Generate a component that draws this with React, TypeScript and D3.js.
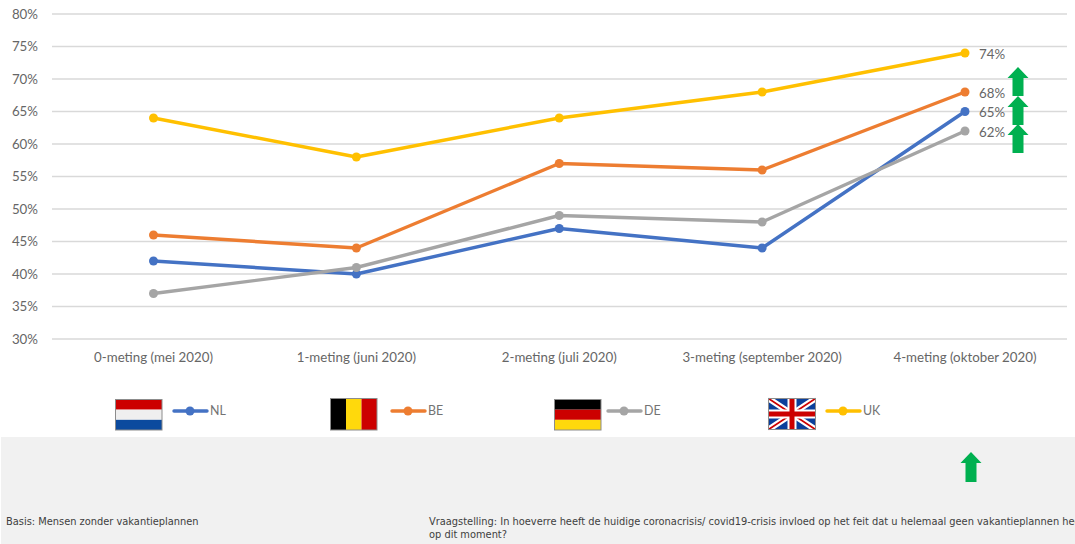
import React from "react";
import * as d3 from "d3";

const categories = ["0-meting (mei 2020)", "1-meting (juni 2020)", "2-meting (juli 2020)", "3-meting (september 2020)", "4-meting (oktober 2020)"];
const NL = [42, 40, 47, 44, 65];
const BE = [46, 44, 57, 56, 68];
const DE = [37, 41, 49, 48, 62];
const UK = [64, 58, 64, 68, 74];
const yTicks = [30, 35, 40, 45, 50, 55, 60, 65, 70, 75, 80];
const seriesNames = ["NL", "BE", "DE", "UK"];
const seriesValues = [NL, BE, DE, UK];
const seriesColors = ["#4472C4", "#ED7D31", "#A5A5A5", "#FFC000"];
const footerBasis = "Basis: Mensen zonder vakantieplannen";
const footerQ1 = "Vraagstelling: In hoeverre heeft de huidige coronacrisis/ covid19-crisis invloed op het feit dat u helemaal geen vakantieplannen heeft";
const footerQ2 = "op dit moment?";

const x = d3.scalePoint<string>().domain(categories).range([153.5, 965]);
const y = d3.scaleLinear().domain([30, 80]).range([339, 14]);
const line = d3.line<number>().x((_, i) => x(categories[i]) as number).y((d) => y(d));

const labelFont = "Lato, 'Open Sans', sans-serif";
const footFont = "'DejaVu Sans', Verdana, sans-serif";

function Arrow({ cx, top, h = 30 }: { cx: number; top: number; h?: number }) {
  const path = d3.path();
  path.moveTo(cx, top);
  path.lineTo(cx + 10.5, top + 11);
  path.lineTo(cx + 5.5, top + 11);
  path.lineTo(cx + 5.5, top + h);
  path.lineTo(cx - 5.5, top + h);
  path.lineTo(cx - 5.5, top + 11);
  path.lineTo(cx - 10.5, top + 11);
  path.closePath();
  return <path d={path.toString()} fill="#00B050" />;
}

function Stripes({ x0, y0, w, h, colors, vertical }: { x0: number; y0: number; w: number; h: number; colors: string[]; vertical?: boolean }) {
  const n = colors.length;
  return (
    <g>
      {colors.map((c, i) =>
        vertical ? (
          <rect key={c + i} x={x0 + (i * w) / n} y={y0} width={w / n} height={h} fill={c} />
        ) : (
          <rect key={c + i} x={x0} y={y0 + (i * h) / n} width={w} height={h / n} fill={c} />
        )
      )}
      <rect x={x0} y={y0} width={w} height={h} fill="none" stroke="#8c8c8c" strokeWidth={1} />
    </g>
  );
}

function UnionJack({ x0, y0, w, h }: { x0: number; y0: number; w: number; h: number }) {
  const x1 = x0 + w;
  const y1 = y0 + h;
  const cx = x0 + w / 2;
  const cy = y0 + h / 2;
  return (
    <g>
      <rect x={x0} y={y0} width={w} height={h} fill="#0B3F9B" />
      <path d={`M${x0},${y0}L${x1},${y1}M${x1},${y0}L${x0},${y1}`} stroke="#fff" strokeWidth={6} />
      <path d={`M${x0},${y0}L${x1},${y1}M${x1},${y0}L${x0},${y1}`} stroke="#CC0000" strokeWidth={1.6} />
      <path d={`M${cx},${y0}V${y1}M${x0},${cy}H${x1}`} stroke="#fff" strokeWidth={9} />
      <path d={`M${cx},${y0}V${y1}M${x0},${cy}H${x1}`} stroke="#CC0000" strokeWidth={5} />
      <rect x={x0} y={y0} width={w} height={h} fill="none" stroke="#8c8c8c" strokeWidth={1} />
    </g>
  );
}

const legendLineX = [173, 391, 607, 826];
const arrowTops = [67, 96, 124];

export default function App() {
  return (
    <svg width={1075} height={544} style={{ position: "absolute", left: 0, top: 0, background: "#fff" }}>
      <rect x={1} y={437} width={1074} height={107} fill="#F1F1F1" />

      {yTicks.map((t) => (
        <g key={t}>
          <line x1={52} x2={1067} y1={y(t)} y2={y(t)} stroke="#D9D9D9" strokeWidth={1.3} />
          <text x={38} y={y(t) + 4.5} textAnchor="end" fontFamily={labelFont} fontSize={13.3} fill="#666666">{t}%</text>
        </g>
      ))}

      {categories.map((c) => (
        <text key={c} x={x(c)} y={362} textAnchor="middle" fontFamily={labelFont} fontSize={13.3} fill="#666666">{c}</text>
      ))}

      {seriesValues.map((vals, s) => (
        <g key={seriesNames[s]}>
          <path d={line(vals) as string} fill="none" stroke={seriesColors[s]} strokeWidth={3.4} strokeLinecap="round" strokeLinejoin="round" />
          {vals.map((v, i) => (
            <circle key={i} cx={x(categories[i])} cy={y(v)} r={4.5} fill={seriesColors[s]} />
          ))}
          <text x={979} y={y(vals[vals.length - 1]) + 5.5} fontFamily={labelFont} fontSize={13.3} fill="#666666">{vals[vals.length - 1]}%</text>
        </g>
      ))}

      {arrowTops.map((t) => (
        <Arrow key={t} cx={1018} top={t} h={29} />
      ))}
      <Arrow cx={971} top={452} h={30} />

      <Stripes x0={115.5} y0={399.5} w={46.5} h={30.5} colors={["#CC0000", "#EFEFEF", "#0B4A9E"]} />
      <Stripes x0={330.5} y0={398.5} w={46.5} h={31.5} colors={["#000000", "#FFD90C", "#CC0000"]} vertical />
      <Stripes x0={554.5} y0={399.5} w={46.5} h={30.5} colors={["#000000", "#CC0000", "#FFD90C"]} />
      <UnionJack x0={768.5} y0={398.5} w={47} h={31} />

      {seriesNames.map((n, s) => (
        <g key={n}>
          <line x1={legendLineX[s] + 1} x2={legendLineX[s] + 34} y1={411} y2={411} stroke={seriesColors[s]} strokeWidth={3.4} strokeLinecap="round" />
          <circle cx={legendLineX[s] + 17} cy={411} r={4.5} fill={seriesColors[s]} />
          <text x={legendLineX[s] + 37} y={415} fontFamily={labelFont} fontSize={12.4} fill="#737373">{n}</text>
        </g>
      ))}

      <text x={6} y={525} fontFamily={footFont} fontSize={9.85} fill="#404040">{footerBasis}</text>
      <text x={429} y={525} fontFamily={footFont} fontSize={9.85} fill="#404040">{footerQ1}</text>
      <text x={429} y={538} fontFamily={footFont} fontSize={9.85} fill="#404040">{footerQ2}</text>
    </svg>
  );
}
